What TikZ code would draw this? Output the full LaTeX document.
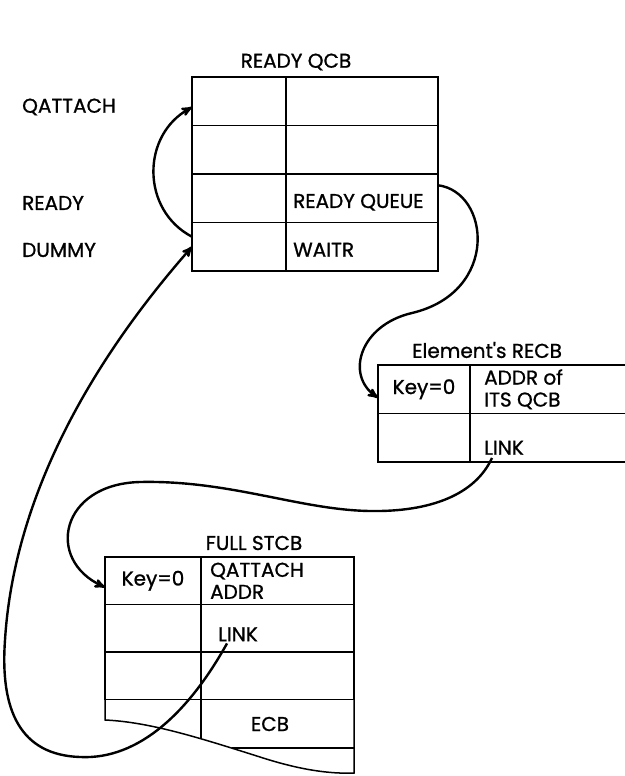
\documentclass[tikz,border=0pt]{standalone}
\usepackage{fontspec}
\setmainfont[FakeBold=1]{Poppins}
\usetikzlibrary{arrows,positioning}
\tikzset{
	%Define standard arrow tip
	>=stealth',
	%Define style for the fields of a control block
	felt/.style={
		draw=black, line width=1.5pt,
		minimum height=48.5pt,
		inner sep=0pt, outer sep=0pt},
	% Define style for texts
	tekst/.style={
		font=\fontsize{20}{22}\selectfont,
		inner sep=0pt},
	% Define arrow style
	lenk/.style={
		->,
		line width=2.4pt}
}
\begin{document}
\begin{tikzpicture}[x=1pt, y=-1pt, node distance=0pt]

	\useasboundingbox (0,0) rectangle (624,776);

	% READY QCB
	\node[felt, minimum width=94pt, anchor=north west] (q11) at (192,77) {};
	\node[felt, minimum width=152pt, right=of q11] (q12) {};
	\foreach \i [count=\j from 2] in {1,2,3} {
		\node[felt, minimum width=94pt, below=of q\i1] (q\j1) {};
		\node[felt, minimum width=152pt, right=of q\j1] (q\j2) {};
	}
	\node[tekst] (qcb) at (296,62) {READY QCB};
	\node[tekst, right=7pt of q32.west, yshift=-4pt] (rq) {READY QUEUE};
	\node[tekst, right=7pt of q42.west, yshift=-3pt] (waitr) {WAITR};

	\node[tekst, anchor=west] (qattach) at (22,107) {QATTACH};
	\node[tekst, anchor=west] (ready) at (22,203) {READY};
	\node[tekst, anchor=west] (dummy) at (22,250) {DUMMY};

	% Element's RECB
	\node[felt, minimum width=92pt, anchor=north west] (r11) at (378,365) {};
	\node[felt, minimum width=170pt, right=of r11] (r12) {};
	\node[felt, minimum width=92pt, below=of r11] (r21) {};
	\node[felt, minimum width=170pt, right=of r21] (r22) {};
	\node[tekst] at (r11) {Key=0};
	\node[tekst, anchor=west] (recb) at (412,350) {Element\textquotesingle s RECB};
	\node[tekst, align=left, right=14pt of r12.west] (addr) {ADDR of\\ITS QCB};
	\node[tekst, right=14pt of r22.west, yshift=-10pt] (rlink) {LINK};

	% FULL STCB (torn off at the bottom)
	\node[felt, minimum height=47.5pt, minimum width=96pt, anchor=north west] (s11) at (105,557) {};
	\node[felt, minimum height=47.5pt, minimum width=153pt, right=of s11] (s12) {};
	\foreach \i [count=\j from 2] in {1,2} {
		\node[felt, minimum height=47.5pt, minimum width=96pt, below=of s\i1] (s\j1) {};
		\node[felt, minimum height=47.5pt, minimum width=153pt, right=of s\j1] (s\j2) {};
	}
	\node[tekst] at (s11) {Key=0};
	\node[tekst] (stcb) at (254,543) {FULL STCB};
	\node[tekst, align=left, right=9pt of s12.west] (qaddr) {QATTACH\\ADDR};
	\node[tekst, right=17pt of s22.west, yshift=-6pt] (slink) {LINK};
	\node[tekst] (ecb) at (270,724) {ECB};
	\draw[line width=1.5pt] (s31.south west) -- (105,720)
		.. controls (150,722) and (200,738) .. (260,757)
		.. controls (300,770) and (330,774) .. (354,773) -- (s32.south east);
	\draw[line width=1.5pt] (s32.south west) -- (201,739);
	\draw[line width=1.5pt] (232,748) -- (354,748);

	% pointers
	\draw[lenk] ([yshift=10pt]q41.west) .. controls (141,210) and (141,135) .. ([yshift=-6pt]q11.west);
	\draw[lenk] ([yshift=13pt]q32.east) .. controls (490,192) and (500,292) .. (412,313)
		.. controls (360,325) and (345,375) .. ([yshift=-8.5pt]r11.west);
	\draw[lenk] ([xshift=8pt,yshift=-3pt]rlink.south west) .. controls (475,495) and (430,512) .. (370,511)
		.. controls (300,510) and (230,480) .. (140,482)
		.. controls (60,484) and (45,560) .. ([yshift=-6.5pt]s11.west);
	\draw[lenk] ([xshift=9pt,yshift=-2pt]slink.south west) .. controls (190,710) and (140,760) .. (80,757)
		.. controls (20,755) and (0,710) .. (5,640)
		.. controls (10,560) and (40,420) .. (q41.west);

\end{tikzpicture}
\end{document}
